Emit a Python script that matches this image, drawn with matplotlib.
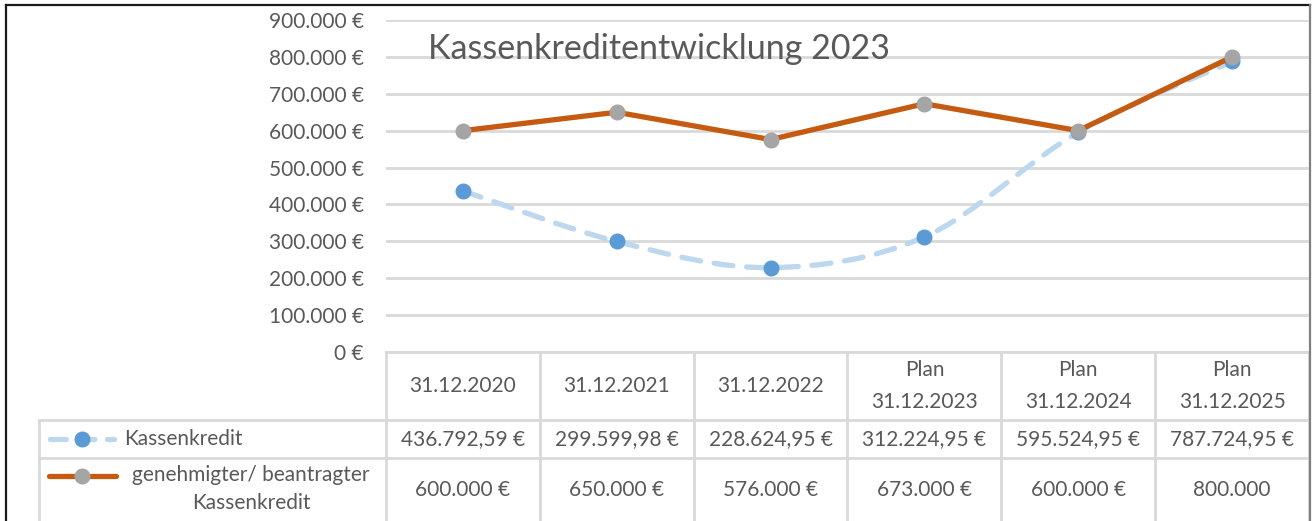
import matplotlib
matplotlib.use("Agg")
import matplotlib.pyplot as plt
from matplotlib.path import Path
from matplotlib.patches import PathPatch
from matplotlib.lines import Line2D
import matplotlib.transforms as mtransforms

plt.rcParams['font.family'] = ['Lato', 'DejaVu Sans']

# ---- data ----
categories = ["31.12.2020", "31.12.2021", "31.12.2022",
              "Plan\n31.12.2023", "Plan\n31.12.2024", "Plan\n31.12.2025"]
kassenkredit = [436792.59, 299599.98, 228624.95, 312224.95, 595524.95, 787724.95]
genehmigt = [600000, 650000, 576000, 673000, 600000, 800000]
kassenkredit_labels = ["436.792,59 €", "299.599,98 €", "228.624,95 €",
                       "312.224,95 €", "595.524,95 €", "787.724,95 €"]
genehmigt_labels = ["600.000 €", "650.000 €", "576.000 €",
                    "673.000 €", "600.000 €", "800.000"]
yticks = [0, 100000, 200000, 300000, 400000, 500000, 600000, 700000, 800000, 900000]
series_names = ["Kassenkredit", "genehmigter/ beantragter\nKassenkredit"]
title = "Kassenkreditentwicklung 2023"

# ---- style ----
W, H = 1315, 521
TXT = "#595959"
GRID = "#D9D9D9"
BLUE = "#5B9BD5"
LBLUE = "#BDD7EE"
ORANGE = "#C55A11"
GRAY = "#A5A5A5"
FS = 15

fig = plt.figure(figsize=(W / 100, H / 100), dpi=100)

# overlay axes in pixel coords (top-left origin)
ov = fig.add_axes([0, 0, 1, 1])
ov.set_xlim(0, W)
ov.set_ylim(H, 0)
ov.axis("off")

# plot area
x0, x1 = 386, 1309
ytop, ybot = 20, 352
ax = fig.add_axes([x0 / W, (H - ybot) / H, (x1 - x0) / W, (ybot - ytop) / H])
ax.patch.set_alpha(0)
n = len(categories)
xs = list(range(n))
ax.set_xlim(-0.5, n - 0.5)
ax.set_ylim(0, 900000)
ax.set_yticks(yticks)
ax.set_yticklabels([("0 €" if v == 0 else f"{v:,.0f}".replace(",", ".") + " €") for v in yticks],
                   fontsize=FS, color=TXT)
ax.tick_params(axis="y", length=0, pad=16)
ax.set_xticks([])
for s in ax.spines.values():
    s.set_visible(False)
ax.grid(axis="y", color=GRID, linewidth=2)
ax.set_axisbelow(True)


def smooth_path(xv, yv):
    pts = list(zip(xv, yv))
    verts = [pts[0]]
    codes = [Path.MOVETO]
    for i in range(len(pts) - 1):
        p0 = pts[i - 1] if i > 0 else pts[i]
        p1 = pts[i]
        p2 = pts[i + 1]
        p3 = pts[i + 2] if i + 2 < len(pts) else pts[i + 1]
        c1 = (p1[0] + (p2[0] - p0[0]) / 6, p1[1] + (p2[1] - p0[1]) / 6)
        c2 = (p2[0] - (p3[0] - p1[0]) / 6, p2[1] - (p3[1] - p1[1]) / 6)
        verts += [c1, c2, p2]
        codes += [Path.CURVE4] * 3
    return Path(verts, codes)


# Kassenkredit: smoothed dashed light blue line
patch = PathPatch(smooth_path(xs, kassenkredit), facecolor="none", edgecolor=LBLUE,
                  linewidth=3.8, linestyle=(0, (3.6, 2.6)), capstyle="round", zorder=3)
ax.add_patch(patch)
ax.plot(xs, kassenkredit, linestyle="none", marker="o", markersize=10.5,
        markerfacecolor=BLUE, markeredgecolor=BLUE, zorder=4)

# genehmigt: solid orange
ax.plot(xs, genehmigt, color=ORANGE, linewidth=3.8, solid_capstyle="round",
        marker="o", markersize=10.5, markerfacecolor=GRAY, markeredgecolor=GRAY, zorder=5)

# title (drawn above the gridlines)
ax.text(428, 49, title, transform=ov.transData, fontsize=24.5, color=TXT,
        ha="left", va="center", zorder=10)

# ---- data table ----
bt = mtransforms.blended_transform_factory(ax.transData, ov.transData)
y_head_top, y_row1, y_row2, y_bottom = 352, 420, 458, H + 5
leg_left = 39
lw_tab = 2
for i in range(n + 1):
    ov.add_line(Line2D([i - 0.5, i - 0.5], [y_head_top, y_bottom], transform=bt,
                       color=GRID, linewidth=lw_tab, zorder=1))
ov.add_line(Line2D([x0, x1], [y_head_top, y_head_top], color=GRID, linewidth=lw_tab, zorder=1))
for yy in (y_row1, y_row2):
    ov.add_line(Line2D([leg_left, x1], [yy, yy], color=GRID, linewidth=lw_tab, zorder=1))
ov.add_line(Line2D([leg_left, leg_left], [y_row1, y_bottom], color=GRID, linewidth=lw_tab, zorder=1))

for i, c in enumerate(categories):
    ov.text(i, (y_head_top + y_row1) / 2, c, transform=bt, ha="center", va="center",
            fontsize=FS, color=TXT, linespacing=1.75)
    ov.text(i, (y_row1 + y_row2) / 2, kassenkredit_labels[i], transform=bt, ha="center",
            va="center", fontsize=FS, color=TXT)
    ov.text(i, 490, genehmigt_labels[i], transform=bt, ha="center", va="center",
            fontsize=FS, color=TXT)

# legend keys
ly1 = (y_row1 + y_row2) / 2
ov.add_line(Line2D([50, 114], [ly1, ly1], color=LBLUE, linewidth=3.8,
                   linestyle=(0, (3.0, 2.4)), dash_capstyle="round", zorder=3))
ov.plot([82], [ly1], marker="o", markersize=10.5, color=BLUE, zorder=4)
ly2 = 476
ov.add_line(Line2D([49, 116], [ly2, ly2], color=ORANGE, linewidth=3.8,
                   solid_capstyle="round", zorder=3))
ov.plot([82], [ly2], marker="o", markersize=10.5, color=GRAY, zorder=4)
ov.text(124, ly1, series_names[0], ha="left", va="center", fontsize=FS, color=TXT)
ov.text(251, 489, series_names[1], ha="center", va="center", fontsize=FS, color=TXT,
        linespacing=1.5)

# outer frame
ov.add_line(Line2D([6, 1310], [5, 5], color="#1a1a1a", linewidth=1.6, zorder=7))
ov.add_line(Line2D([6, 6], [5, H + 5], color="#1a1a1a", linewidth=1.6, zorder=7))
ov.add_line(Line2D([1310, 1310], [5, H + 5], color="#808080", linewidth=1.6, zorder=7))

fig.savefig("out.png", dpi=100)
